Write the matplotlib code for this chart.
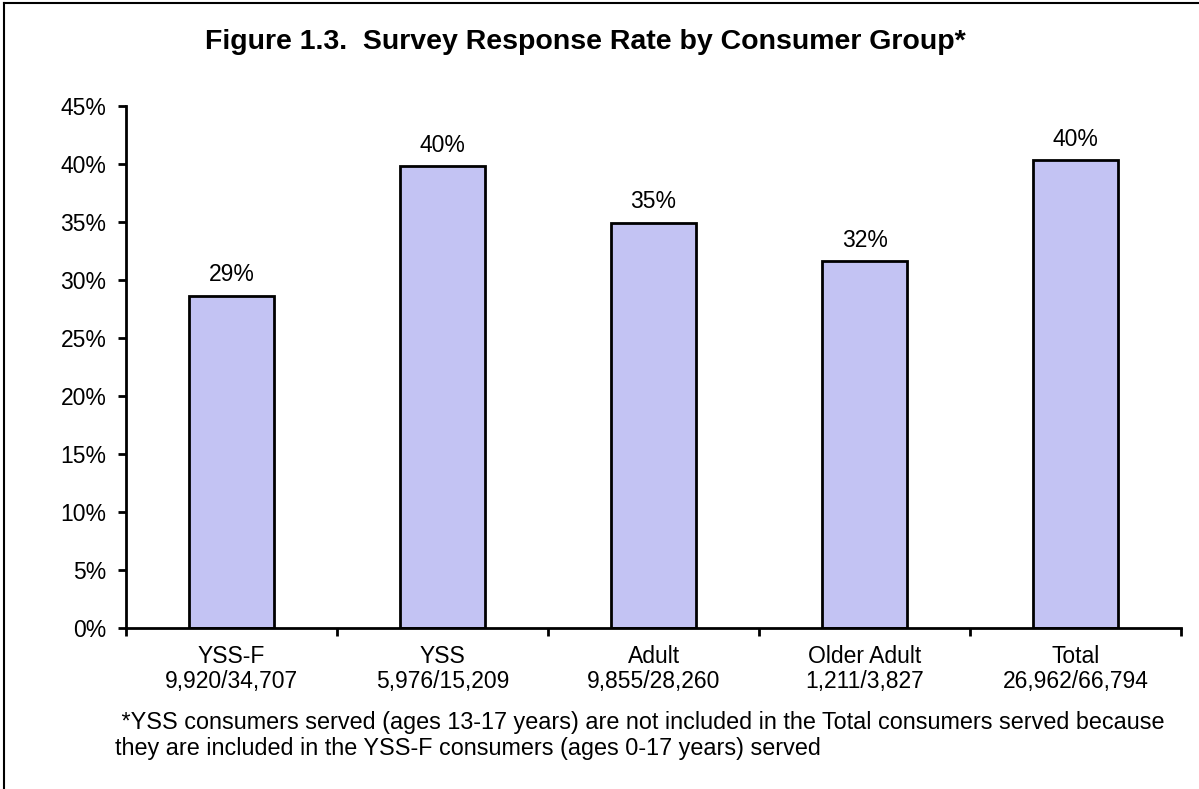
import matplotlib
matplotlib.use("Agg")
import matplotlib.pyplot as plt
from matplotlib.lines import Line2D
from matplotlib.ticker import PercentFormatter

plt.rcParams['font.family'] = ['Liberation Sans', 'DejaVu Sans']

groups = ["YSS-F", "YSS", "Adult", "Older Adult", "Total"]
counts = ["9,920/34,707", "5,976/15,209", "9,855/28,260", "1,211/3,827", "26,962/66,794"]
rates = [28.6, 39.8, 34.9, 31.6, 40.3]
rate_labels = ["29%", "40%", "35%", "32%", "40%"]

title = "Figure 1.3.  Survey Response Rate by Consumer Group*"
note = (" *YSS consumers served (ages 13-17 years) are not included in the Total consumers served because\n"
        "they are included in the YSS-F consumers (ages 0-17 years) served")

fig = plt.figure(figsize=(11.99, 7.89), dpi=100)
ax = fig.add_axes([0.1051, 0.2041, 0.880, 0.6616])

x = list(range(len(groups)))
bars = ax.bar(x, rates, width=0.40, color="#c3c3f3", edgecolor="black", linewidth=2, zorder=2)

for b, lab in zip(bars, rate_labels):
    ax.annotate(lab, (b.get_x() + b.get_width() / 2, b.get_height()),
                xytext=(0, 7), textcoords="offset points",
                ha="center", va="bottom", fontsize=16.5)

ax.set_xlim(-0.5, len(groups) - 0.5)
ax.set_ylim(0, 45)
ax.set_yticks(range(0, 50, 5))
ax.yaxis.set_major_formatter(PercentFormatter(decimals=0))

# category boundaries get the tick marks, names sit in between
ax.set_xticks([i - 0.5 for i in range(len(groups) + 1)])
ax.set_xticklabels([])
ax.set_xticks(x, minor=True)
ax.set_xticklabels([f"{g}\n{c}" for g, c in zip(groups, counts)], minor=True,
                   fontsize=16.5, linespacing=1.15)
ax.tick_params(axis="x", which="minor", length=0, pad=12)
ax.tick_params(axis="x", which="major", length=6, width=2, direction="out")
ax.tick_params(axis="y", length=6, width=2, direction="out", labelsize=16.5, pad=8)

for side in ("top", "right"):
    ax.spines[side].set_visible(False)
for side in ("left", "bottom"):
    ax.spines[side].set_linewidth(2)

fig.text(0.488, 0.947, title, ha="center", va="center", fontsize=20.5, fontweight="bold")
fig.text(0.096, 0.068, note, ha="left", va="center", fontsize=16.8, linespacing=1.2)

# chart frame (top and left edges)
fig.add_artist(Line2D([0.003, 1.0], [0.996, 0.996], color="black", linewidth=1.5, transform=fig.transFigure))
fig.add_artist(Line2D([0.003, 0.003], [0.0, 0.996], color="black", linewidth=1.5, transform=fig.transFigure))

fig.savefig("out.png", dpi=100, facecolor="white")
